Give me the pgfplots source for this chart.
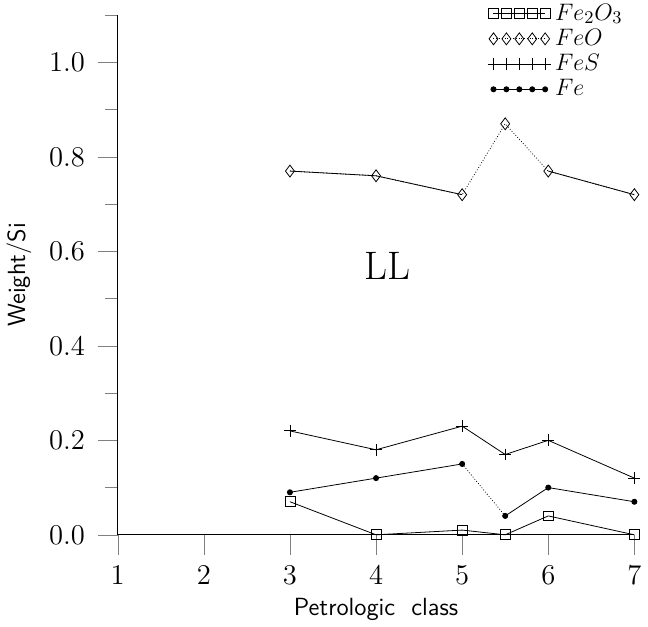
\documentclass[border=0pt]{standalone}
\usepackage{pgfplots}
\pgfplotsset{compat=1.18}
\begin{document}
\begin{tikzpicture}
\begin{axis}[
  scale only axis,
  width=260pt, height=261.5pt,
  xmin=1, xmax=7, ymin=0, ymax=1.1,
  axis lines=left, axis line style={-, thin},
  tick align=outside, major tick length=10pt, minor tick length=6.5pt,
  xtick={1,2,3,4,5,6,7},
  ytick={0,0.2,0.4,0.6,0.8,1.0},
  minor ytick={0.1,0.3,0.5,0.7,0.9,1.1},
  y tick label style={/pgf/number format/fixed, /pgf/number format/fixed zerofill,
    /pgf/number format/precision=1, xshift=-3pt},
  tick label style={font=\fontsize{14}{16}\selectfont},
  x tick label style={yshift=-2pt},
  xlabel={\sffamily Petrologic\ \ class},
  ylabel={\sffamily Weight/Si},
  ylabel style={yshift=2pt},
  label style={font=\fontsize{12.5}{14}\selectfont},
  clip=false,
  every axis plot/.append style={black, thin},
  legend image code/.code={\draw[mark repeat=1,mark phase=1,#1] plot coordinates {(0pt,0pt)(6.5pt,0pt)(13pt,0pt)(19.5pt,0pt)(26pt,0pt)};},
  legend style={draw=none, fill=none, at={(rel axis cs:0.715,1.03)}, anchor=north west,
    font=\fontsize{13}{14}\selectfont, row sep=-1pt, inner sep=0pt,
    /tikz/every even column/.append style={column sep=3pt}},
  legend cell align=left,
]
% Fe2O3
\addplot[mark=square, mark size=2.5pt] coordinates {
  (3,0.07) (4,0.0) (5,0.01) (5.5,0.0) (6,0.04) (7,0.0)
};
\addlegendentry{$Fe_2O_3$}
% FeO (dotted overall, solid overlay where drawn solid)
\addplot[densely dotted, mark=diamond, mark size=3pt, mark options={solid}] coordinates {
  (3,0.77) (4,0.76) (5,0.72) (5.5,0.87) (6,0.77) (7,0.72)
};
\addlegendentry{$FeO$}
\addplot[solid, no marks, forget plot] coordinates {(3,0.77) (4,0.76) (5,0.72)};
\addplot[solid, no marks, forget plot] coordinates {(6,0.77) (7,0.72)};
% FeS
\addplot[mark=+, mark size=3pt] coordinates {
  (3,0.22) (4,0.18) (5,0.23) (5.5,0.17) (6,0.20) (7,0.12)
};
\addlegendentry{$FeS$}
% Fe
\addplot[mark=*, mark size=1.3pt] coordinates {(3,0.09) (4,0.12) (5,0.15)};
\addlegendentry{$Fe$}
\addplot[densely dotted, no marks, forget plot] coordinates {(5,0.15) (5.5,0.04)};
\addplot[mark=*, mark size=1.3pt, forget plot] coordinates {(5.5,0.04) (6,0.10) (7,0.07)};
\node[font=\fontsize{20}{22}\selectfont] at (axis cs:4.13,0.57) {LL};
\end{axis}
\end{tikzpicture}
\end{document}
